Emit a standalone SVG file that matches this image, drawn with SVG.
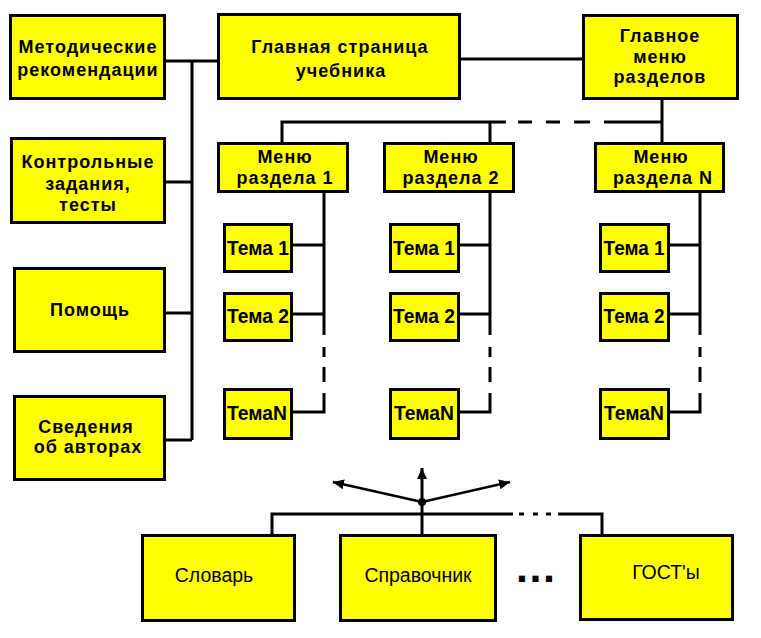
<svg xmlns="http://www.w3.org/2000/svg" width="761" height="638" viewBox="0 0 761 638">
<style>
.box{fill:#ffff00;stroke:#000;stroke-width:3}
.t{font-family:"Liberation Sans",Arial,sans-serif;font-weight:bold;font-size:18px;letter-spacing:1px;fill:#000;text-anchor:middle}
.tm{font-family:"Liberation Sans",Arial,sans-serif;font-weight:bold;font-size:21px;fill:#000;text-anchor:middle}
.r{font-family:"Liberation Sans",Arial,sans-serif;font-size:19.5px;fill:#000;text-anchor:middle}
.ln{fill:none;stroke:#000;stroke-width:3}
.ar{fill:none;stroke:#000;stroke-width:2.5}
</style>
<defs>
<marker id="ah" markerUnits="userSpaceOnUse" markerWidth="12" markerHeight="10" refX="11" refY="5" orient="auto"><path d="M0,0 L11,5 L0,10 z" fill="#000"/></marker>
</defs>
<rect width="761" height="638" fill="#fff"/>
<g id="connectors">
<path class="ln" d="M166 61H217 M192 61V440 M166 182H192 M166 313H192 M166 440H192"/>
<path class="ln" d="M461 59H582 M662 100V142"/>
<path class="ln" d="M282 142V122H506 M518 122H532 M546 122H560 M574 122H590 M604 122H662 M490 122V142"/>
<path class="ln" d="M324 193V335 M324 347V357 M324 367V382 M324 393V412H293 M293 245H324 M293 314H324"/>
<path class="ln" d="M490 193V335 M490 347V357 M490 367V382 M490 393V412H460 M460 245H490 M460 314H490"/>
<path class="ln" d="M700 193V335 M700 347V357 M700 367V382 M700 393V412H670 M670 245H700 M670 314H700"/>
<path class="ln" d="M272 534V514H513 M519 514H524 M533 514H538 M546 514H551 M558 514H602V534"/>
<line class="ln" x1="422" y1="534" x2="422" y2="468" marker-end="url(#ah)"/>
<line class="ar" x1="422" y1="502" x2="333" y2="482" marker-end="url(#ah)"/>
<line class="ar" x1="422" y1="502" x2="510" y2="482" marker-end="url(#ah)"/>
<circle cx="422" cy="502" r="4" fill="#000"/>
</g>
<g id="metod"><rect class="box" x="10.5" y="15.5" width="154" height="83"/><text class="t" x="88" y="53">Методические</text><text class="t" x="88" y="76">рекомендации</text></g>
<g id="kontrol"><rect class="box" x="11.5" y="138.5" width="153" height="84"/><text class="t" x="88" y="168">Контрольные</text><text class="t" x="88" y="190">задания,</text><text class="t" x="88" y="211">тесты</text></g>
<g id="pomosh"><rect class="box" x="14.5" y="268.5" width="150" height="83"/><text class="t" x="90" y="316">Помощь</text></g>
<g id="svedeniya"><rect class="box" x="14.5" y="396.5" width="150" height="83"/><text class="t" x="86" y="433">Сведения</text><text class="t" x="88" y="453">об авторах</text></g>
<g id="glavnaya"><rect class="box" x="218.5" y="14.5" width="241" height="84"/><text class="t" x="340" y="53">Главная страница</text><text class="t" x="341" y="77">учебника</text></g>
<g id="glmenu"><rect class="box" x="583.5" y="15.5" width="154" height="83"/><text class="t" x="660" y="42">Главное</text><text class="t" x="660" y="63">меню</text><text class="t" x="660" y="83">разделов</text></g>
<g id="menu1"><rect class="box" x="218.5" y="143.5" width="129" height="48"/><text class="t" x="285" y="163">Меню</text><text class="t" x="285" y="184">раздела 1</text></g>
<g id="menu2"><rect class="box" x="384.5" y="143.5" width="129" height="48"/><text class="t" x="451" y="163">Меню</text><text class="t" x="451" y="184">раздела 2</text></g>
<g id="menuN"><rect class="box" x="595.5" y="143.5" width="128" height="48"/><text class="t" x="661" y="163">Меню</text><text class="t" x="663" y="184">раздела N</text></g>
<g id="t1_1"><rect class="box" x="224.5" y="224.5" width="67" height="47"/><text class="tm" x="258" y="255" textLength="62" lengthAdjust="spacingAndGlyphs">Тема 1</text></g>
<g id="t1_2"><rect class="box" x="224.5" y="293.5" width="67" height="47"/><text class="tm" x="258" y="323" textLength="62" lengthAdjust="spacingAndGlyphs">Тема 2</text></g>
<g id="t1_N"><rect class="box" x="224.5" y="389.5" width="67" height="49"/><text class="tm" x="257" y="420" textLength="60" lengthAdjust="spacingAndGlyphs">ТемаN</text></g>
<g id="t2_1"><rect class="box" x="390.5" y="224.5" width="68" height="47"/><text class="tm" x="424" y="255" textLength="62" lengthAdjust="spacingAndGlyphs">Тема 1</text></g>
<g id="t2_2"><rect class="box" x="390.5" y="293.5" width="68" height="47"/><text class="tm" x="424" y="323" textLength="62" lengthAdjust="spacingAndGlyphs">Тема 2</text></g>
<g id="t2_N"><rect class="box" x="390.5" y="389.5" width="68" height="49"/><text class="tm" x="424" y="420" textLength="60" lengthAdjust="spacingAndGlyphs">ТемаN</text></g>
<g id="t3_1"><rect class="box" x="600.5" y="224.5" width="68" height="47"/><text class="tm" x="634" y="255" textLength="61" lengthAdjust="spacingAndGlyphs">Тема 1</text></g>
<g id="t3_2"><rect class="box" x="600.5" y="293.5" width="68" height="47"/><text class="tm" x="634" y="323" textLength="61" lengthAdjust="spacingAndGlyphs">Тема 2</text></g>
<g id="t3_N"><rect class="box" x="600.5" y="389.5" width="68" height="49"/><text class="tm" x="634" y="420" textLength="60" lengthAdjust="spacingAndGlyphs">ТемаN</text></g>
<g id="slovar"><rect class="box" x="142.5" y="535.5" width="152" height="85"/><text class="r" x="214" y="582">Словарь</text></g>
<g id="spravochnik"><rect class="box" x="340.5" y="535.5" width="155" height="85"/><text class="r" x="418" y="582">Справочник</text></g>
<g id="ellipsis"><text x="516" y="582" style="font-family:'Liberation Sans',Arial,sans-serif;font-weight:bold;font-size:43px;letter-spacing:1.5px">...</text></g>
<g id="gost"><rect class="box" x="580.5" y="535.5" width="152" height="84"/><text class="r" x="666" y="579">ГОСТ'ы</text></g>
</svg>
